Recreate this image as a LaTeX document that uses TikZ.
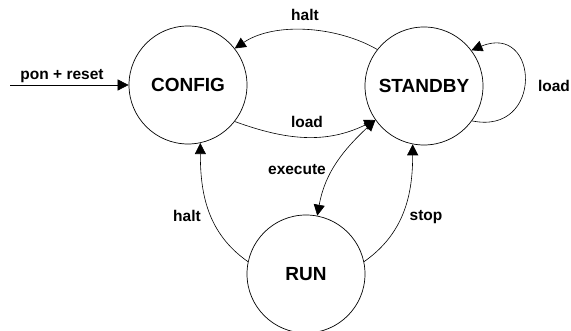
\documentclass[tikz,border=0pt]{standalone}
\usepackage{fontspec}
\setmainfont{Liberation Sans}
\usetikzlibrary{arrows.meta}
\tikzset{
  state/.style={draw, circle, line width=0.7pt, minimum size=118pt, inner sep=0pt,
    font=\fontsize{19}{22}\selectfont\bfseries},
  lbl/.style={anchor=base, inner sep=0pt, font=\fontsize{15.5}{18}\selectfont\bfseries},
  conn/.style={line width=0.6pt, -{Triangle[length=11pt,width=11pt]}},
  conn2/.style={line width=0.6pt, {Triangle[length=11pt,width=11pt]}-{Triangle[length=11pt,width=11pt]}}
}
\begin{document}
\begin{tikzpicture}[x=1pt,y=1pt]
\useasboundingbox (0,0) rectangle (571,331);
\node[state] (config) at (188,246) {CONFIG};
\node[state] (standby) at (424,245) {STANDBY};
\node[state] (run) at (306,57) {RUN};
\coordinate (start) at (10,246);

\draw[conn] (start) -- (config.180);
\node[lbl] (lpon) at (62,251) {pon + reset};

\draw[conn] (standby.142) to[out=150,in=34,looseness=0.85] (config.38);
\node[lbl] (lhalt1) at (305,310) {halt};

\draw[conn] (config.-38) to[out=-20,in=206] (standby.215);
\node[lbl] (lload1) at (307,203) {load};

\draw[conn] (standby.-36) .. controls +(72,-15) and +(68,28) .. (standby.37);
\node[lbl] (lload2) at (554,239) {load};

\draw[conn2] (run.79) to[out=80,in=223] (standby.215);
\node[lbl] (lexec) at (297,156) {execute};

\draw[conn] (run.168) to[out=145,in=-90] (config.-78);
\node[lbl] (lhalt2) at (187,109) {halt};

\draw[conn] (run.12) to[out=35,in=-90] (standby.-101);
\node[lbl] (lstop) at (426,110) {stop};
\end{tikzpicture}
\end{document}
